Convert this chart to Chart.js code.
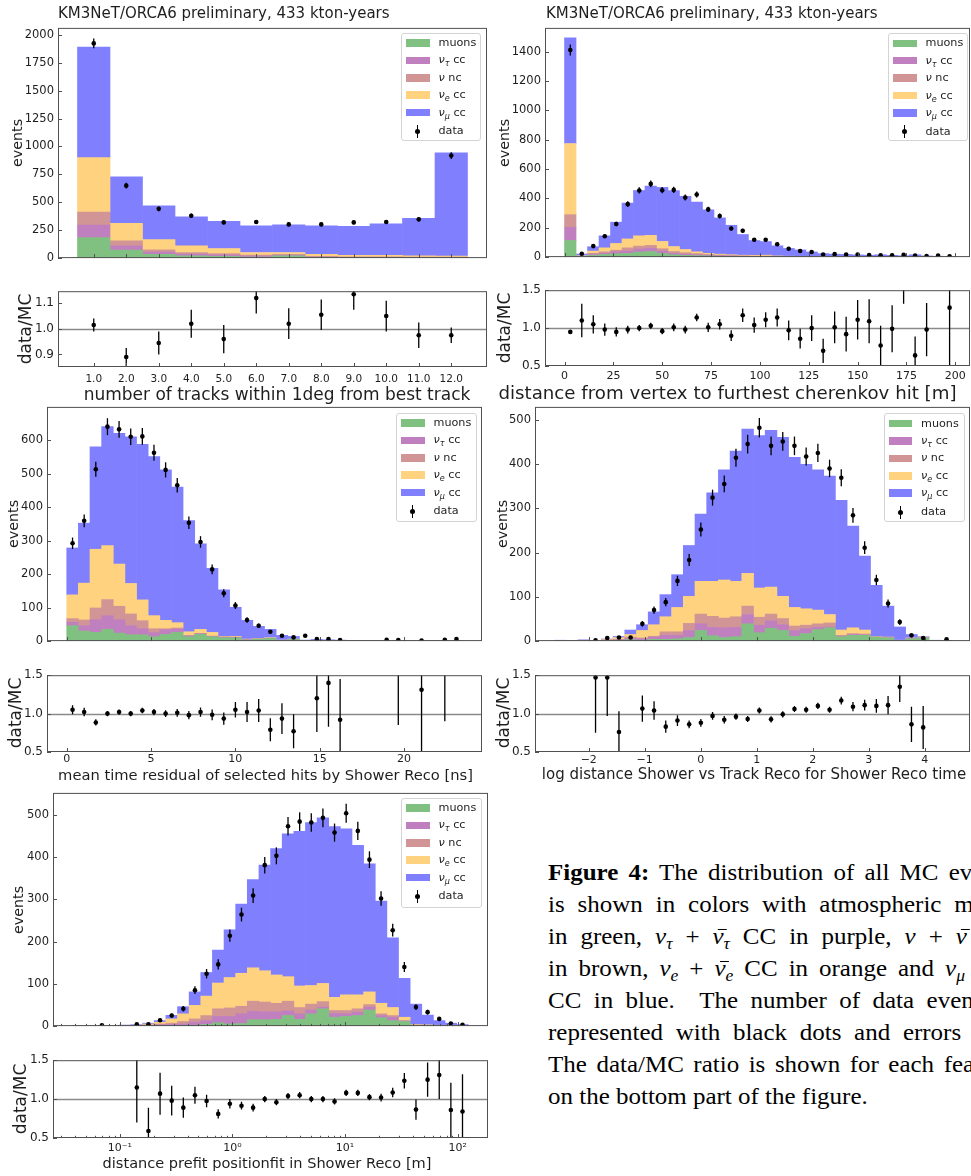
<!DOCTYPE html>
<html><head><meta charset="utf-8">
<script src="https://cdn.jsdelivr.net/npm/chart.js"></script>
<style>
html,body{margin:0;padding:0;background:#fff;width:971px;height:1176px;overflow:hidden;position:relative;font-family:'DejaVu Sans',sans-serif;}
canvas{position:absolute;}
.t{position:absolute;white-space:nowrap;color:#1e1e1e;font-family:'DejaVu Sans',sans-serif;line-height:1.2;}
.c{transform:translate(-50%,-50%);}
.r{transform:translate(-50%,-50%) rotate(-90deg);}
.lv{transform:translate(0,-50%);}
.leg{position:absolute;background:rgba(255,255,255,0.85);border:1px solid #d4d4d4;border-radius:3px;box-sizing:border-box;z-index:5;}
.leg .p{position:absolute;left:4px;width:23.5px;height:7.5px;}
.leg .lt{position:absolute;left:36.5px;font-size:11.2px;color:#1e1e1e;white-space:nowrap;transform:translate(0,-50%);line-height:1.2;}
.leg sub{font-size:72%;vertical-align:-0.28em;line-height:0;}
.cl{position:absolute;left:548px;white-space:nowrap;font-family:'Liberation Serif','Times New Roman',serif;font-size:22.5px;line-height:1;color:#000;transform-origin:0 0;transform:scaleX(1.11);}
.cl sub{font-size:70%;vertical-align:-0.3em;line-height:0;}
.nb{position:relative;display:inline-block;font-style:italic;}
.nb .bar{position:absolute;left:5px;width:8px;top:3px;height:1.3px;background:#000;}
</style></head><body>
<script>
// ================= DATA =================
// Panel A: number of tracks within 1deg from best track (12 bins)
const aCenters = [1, 2, 3, 4, 5, 6, 7, 8, 9, 10, 11, 12];
const aMuons = [184, 71, 33, 21, 15, 9, 20, 6, 5, 5, 4, 4];
const aTau   = [112, 39, 20, 15, 12, 9, 5, 4, 3, 3, 3, 2];
const aNc    = [116, 44, 21, 14, 14, 9, 8, 5, 4, 4, 3, 3];
const aNue   = [488, 157, 92, 60, 45, 23, 17, 18, 12, 12, 11, 9];
const aNumu  = [990, 418, 302, 260, 243, 240, 249, 257, 260, 284, 335, 924];
const aData  = [1923, 649, 441, 379, 320, 323, 302, 302, 320, 323, 347, 918];
const aRatio    = [1.015, 0.89, 0.945, 1.02, 0.96, 1.12, 1.02, 1.055, 1.135, 1.05, 0.975, 0.975];
const aRatioErr = [0.025, 0.035, 0.045, 0.055, 0.055, 0.06, 0.06, 0.06, 0.06, 0.06, 0.05, 0.03];
const aXTicks = [1, 2, 3, 4, 5, 6, 7, 8, 9, 10, 11, 12];
const aXLabels = ['1.0','2.0','3.0','4.0','5.0','6.0','7.0','8.0','9.0','10.0','11.0','12.0'];
const aYTicks = [0, 250, 500, 750, 1000, 1250, 1500, 1750, 2000];
const aYLabels = ['0','250','500','750','1000','1250','1500','1750','2000'];
const aRTicks = [0.9, 1.0, 1.1];
const aRLabels = ['0.9','1.0','1.1'];

// Panel B: distance from vertex to furthest cherenkov hit [m] (34 bins, 0..200)
const bBinStart = 0, bBinWidth = 200 / 34;
const bMuons = [113, 2, 12, 18, 23, 25, 35, 38, 25, 16, 12, 10, 8, 6, 5, 4, 3, 3, 2, 1, 1, 1, 1, 0, 0, 0, 0, 0, 0, 0, 0, 0, 0, 0];
const bTau   = [90, 1, 6, 8, 13, 16, 20, 22, 16, 10, 8, 6, 4, 3, 2, 2, 1, 1, 1, 1, 1, 0, 0, 0, 0, 0, 0, 0, 0, 0, 0, 0, 0, 0];
const bNc    = [86, 2, 8, 10, 11, 22, 20, 20, 16, 12, 10, 8, 6, 5, 4, 3, 3, 3, 2, 2, 1, 1, 1, 1, 1, 0, 0, 0, 0, 0, 0, 0, 0, 0];
const bNue   = [485, 4, 15, 27, 46, 61, 70, 68, 50, 34, 22, 12, 7, 6, 5, 4, 5, 6, 3, 2, 2, 1, 1, 1, 1, 1, 1, 1, 1, 0, 1, 0, 0, 0];
const bNumu  = [721, 12, 30, 82, 145, 244, 309, 336, 368, 381, 362, 339, 297, 247, 201, 141, 101, 93, 69, 53, 44, 32, 21, 18, 16, 14, 12, 15, 11, 9, 15, 8, 6, 4];
const bData  = [1411, 23, 75, 142, 226, 361, 454, 499, 456, 458, 406, 427, 325, 280, 195, 180, 118, 118, 88, 57, 42, 35, 17, 20, 17, 17, 14, 12, 12, 15, 10, 8, 10, 5];
const bRatio    = [0.95, 1.10, 1.05, 0.98, 0.95, 0.98, 1.00, 1.03, 0.96, 1.01, 0.98, 1.14, 1.01, 1.05, 0.90, 1.17, 1.04, 1.11, 1.14, 0.97, 0.86, 1.00, 0.70, 1.01, 0.92, 1.11, 1.09, 0.77, 0.99, 1.65, 0.64, 0.98, null, 1.27];
const bRatioErr = [0.02, 0.22, 0.12, 0.08, 0.06, 0.05, 0.04, 0.04, 0.04, 0.05, 0.05, 0.05, 0.06, 0.07, 0.07, 0.09, 0.10, 0.10, 0.12, 0.13, 0.13, 0.17, 0.16, 0.21, 0.23, 0.26, 0.29, 0.26, 0.31, 0.33, 0.25, 0.35, null, 0.80];
const bXTicks = [0, 25, 50, 75, 100, 125, 150, 175, 200];
const bXLabels = ['0','25','50','75','100','125','150','175','200'];
const bYTicks = [0, 200, 400, 600, 800, 1000, 1200, 1400];
const bYLabels = ['0','200','400','600','800','1000','1200','1400'];

// Panel C: mean time residual of selected hits by Shower Reco [ns] (34 bins)
const cBinStart = 0, cBinWidth = 0.69;
const cMuons = [46, 30, 26, 35, 24, 19, 19, 13, 20, 26, 13, 20, 13, 10, 10, 3, 6, 8, 1, 5, 0, 0, 0, 0, 0, 0, 0, 0, 0, 0, 0, 0, 0, 0];
const cTau   = [10, 16, 38, 41, 40, 27, 18, 12, 14, 10, 2, 2, 1, 1, 1, 1, 0, 0, 0, 0, 0, 0, 0, 0, 0, 0, 0, 0, 0, 0, 0, 0, 0, 0];
const cNc    = [11, 17, 35, 48, 40, 35, 24, 12, 3, 3, 2, 1, 1, 2, 1, 1, 1, 0, 1, 0, 0, 0, 0, 0, 0, 0, 0, 0, 0, 0, 0, 0, 0, 0];
const cNue   = [71, 110, 175, 161, 126, 91, 62, 39, 25, 16, 11, 12, 11, 1, 2, 1, 1, 2, 1, 1, 1, 1, 1, 0, 1, 1, 1, 0, 1, 0, 0.5, 0, 1, 0];
const cNumu  = [140, 179, 306, 355, 390, 438, 464, 475, 449, 405, 332, 255, 191, 139, 87, 56, 36, 25, 14, 8, 2, 4, 3, 3, 1, 1, 1, 1, 1, 1, 1, 1, 1, 1];
const cData  = [292, 359, 513, 640, 632, 610, 611, 562, 511, 465, 353, 296, 214, 143, 106, 63, 46, 28, 16, 11, 16, 6, 6, 3, null, null, null, 4, 3, null, 2, null, 4, 6];
const cRatio    = [1.05, 1.02, 0.885, 1.00, 1.02, 1.00, 1.04, 1.02, 1.00, 1.01, 0.98, 1.02, 0.985, 0.935, 1.05, 1.02, 1.04, 0.79, 0.935, 0.77, null, 1.20, 1.40, 0.92, null, null, null, null, 1.65, null, 1.31, null, 1.85, null];
const cRatioErr = [0.06, 0.055, 0.04, 0.035, 0.035, 0.035, 0.035, 0.04, 0.045, 0.05, 0.055, 0.06, 0.07, 0.08, 0.10, 0.13, 0.15, 0.15, 0.20, 0.22, null, 0.44, 0.57, 0.53, null, null, null, null, 0.80, null, 0.90, null, 0.95, null];
const cXTicks = [0, 5, 10, 15, 20];
const cXLabels = ['0','5','10','15','20'];
const cYTicks = [0, 100, 200, 300, 400, 500, 600];
const cYLabels = ['0','100','200','300','400','500','600'];

// Panel D: log distance Shower vs Track Reco for Shower Reco time (34 bins)
const dBinStart = -2.61, dBinWidth = 0.209;
const dMuons = [0, 0, 0, 0, 1, 2, 3, 2, 4, 4, 5, 8, 24, 12, 8, 10, 39, 19, 29, 24, 11, 17, 26, 30, 10, 13, 13, 9, 7, 1, 5, 7, 0, 0];
const dTau   = [0, 0, 0, 0, 1, 1, 3, 3, 5, 9, 8, 16, 15, 19, 22, 21, 21, 17, 17, 13, 13, 11, 5, 2, 1, 2, 1, 0, 0, 0, 0, 0, 0, 0];
const dNc    = [0, 0, 1, 0.5, 1, 1, 3, 2, 2, 8, 8, 16, 22, 25, 22, 24, 19, 18, 15, 14, 10, 8, 8, 9, 2, 2, 2, 0, 1, 0, 1, 1, 0, 0];
const dNue   = [1, 1, 1, 0.5, 1, 4, 6, 17, 26, 34, 55, 61, 74, 79, 86, 80, 74, 66, 61, 50, 42, 37, 31, 19, 12, 13, 9, 1, 1, 1, 1, 1, 1, 0];
const dNumu  = [1, 0.5, 1, 0.4, 0.8, 2.5, 10, 13, 29, 50, 74, 115, 152, 200, 249, 294, 326, 344, 354, 359, 339, 326, 317, 313, 293, 230, 167, 116, 70, 30, 8, 1, 1, 1.5];
const dData  = [null, null, null, 2, 7, 8, 8, 39, 70, 88, 136, 183, 252, 324, 355, 414, 445, 482, 441, 451, 441, 417, 425, 390, 369, 284, 211, 138, 85, 43, 13, 7, null, 4];
const dRatio    = [null, null, null, 1.47, 1.47, 0.76, null, 1.065, 1.04, 0.83, 0.91, 0.86, 0.88, 0.97, 0.92, 0.96, 0.93, 1.04, 0.925, 0.99, 1.06, 1.05, 1.10, 1.05, 1.17, 1.09, 1.11, 1.10, 1.11, 1.35, 0.86, 0.82, null, null];
const dRatioErr = [null, null, null, 0.72, 0.50, 0.27, null, 0.17, 0.12, 0.08, 0.07, 0.05, 0.05, 0.05, 0.05, 0.04, 0.04, 0.04, 0.04, 0.04, 0.04, 0.04, 0.04, 0.04, 0.05, 0.06, 0.07, 0.09, 0.12, 0.20, 0.23, 0.28, null, null];
const dXTicks = [-2, -1, 0, 1, 2, 3, 4];
const dXLabels = ['\u22122','\u22121','0','1','2','3','4'];
const dYTicks = [0, 100, 200, 300, 400, 500];
const dYLabels = ['0','100','200','300','400','500'];

// Panel E: distance prefit positionfit in Shower Reco [m] (34 log bins)
const eLogStart = -1.417, eLogWidth = 0.1033;
const eMuons = [0, 0, 0, 0, 0, 0, 0, 1, 1, 1, 2, 4, 8, 5, 6, 15, 15, 16, 25, 16, 29, 41, 21, 23, 25, 38, 20, 13, 11, 2, 1, 1, 0, 0];
const eTau   = [0, 0, 0, 0, 0, 0, 1, 2, 3, 4, 7, 9, 15, 18, 23, 20, 19, 18, 11, 13, 9, 4, 9, 6, 8, 7, 5, 8, 1, 0, 0, 0, 0, 0];
const eNc    = [1, 1, 0, 1, 1, 1, 2, 2, 3, 6, 8, 12, 18, 20, 18, 24, 23, 20, 23, 15, 14, 13, 7, 8, 8, 6, 4, 4, 1, 1, 1, 0, 0, 0];
const eNue   = [0, 0, 0, 0.5, 1, 1, 2, 4, 10, 18, 32, 46, 61, 72, 78, 79, 74, 67, 58, 51, 44, 43, 31, 37, 33, 30, 25, 19, 8, 1, 1, 1, 1, 0.6];
const eNumu  = [0, 0, 0, 0, 0.5, 1.5, 2, 4, 8.5, 17, 32, 56, 78, 113, 164, 209, 250, 299, 338, 366, 386, 392, 404, 393, 354, 303, 242, 165, 92, 48, 23, 11, 6, 3];
const eData  = [null, null, 2, null, null, 4, 4, 14, 25, 41, 85, 124, 146, 214, 264, 309, 381, 403, 473, 484, 482, 493, 458, 504, 462, 394, 302, 227, 140, 45, 33, 17, 6, 3];
const eRatio    = [null, null, null, null, null, 1.15, 0.59, 1.07, 0.98, 0.89, 1.05, 0.975, 0.81, 0.94, 0.915, 0.89, 1.00, 0.96, 1.04, 1.05, 1.00, 1.00, 0.97, 1.08, 1.08, 1.025, 1.02, 1.085, 1.235, 0.865, 1.25, 1.31, 0.86, 0.84];
const eRatioErr = [null, null, null, null, null, 0.45, 0.30, 0.27, 0.19, 0.13, 0.11, 0.08, 0.06, 0.06, 0.05, 0.05, 0.04, 0.04, 0.04, 0.04, 0.04, 0.04, 0.04, 0.04, 0.04, 0.04, 0.05, 0.06, 0.10, 0.13, 0.22, 0.31, 0.35, 0.48];
const eXTicks = [0.1, 1, 10, 100];
const eXLabels = ['10\u207B\u00B9','10\u2070','10\u00B9','10\u00B2'];
const eYTicks = [0, 100, 200, 300, 400, 500];
const eYLabels = ['0','100','200','300','400','500'];

const rTicks = [0.5, 1.0, 1.5];
const rLabels = ['0.5','1.0','1.5'];

const compLabels = ['muons', '\u03BD\u03C4 cc', '\u03BD nc', '\u03BDe cc', '\u03BD\u03BC cc'];
// ================= STYLE / LAYOUT =================
const compColors = ['#80c080', '#c080c0', '#d29595', '#ffd280', '#8080ff'];
const frameColor = '#505050';

const decor = {
  id: 'decor',
  beforeDatasetsDraw(chart, args, o) {
    if (o.refLine == null) return;
    const {ctx, chartArea: a, scales: {y}} = chart;
    const py = Math.round(y.getPixelForValue(o.refLine)) + 0.5;
    ctx.save(); ctx.strokeStyle = '#8a8a8a'; ctx.lineWidth = 1.3;
    ctx.beginPath(); ctx.moveTo(a.left, py); ctx.lineTo(a.right, py); ctx.stroke(); ctx.restore();
  },
  afterDatasetsDraw(chart, args, o) {
    const {ctx, chartArea: a, scales: {x, y}} = chart;
    ctx.save();
    ctx.beginPath(); ctx.rect(a.left, a.top, a.right - a.left, a.bottom - a.top); ctx.clip();
    ctx.strokeStyle = '#000'; ctx.lineWidth = 1.3;
    chart.data.datasets.forEach(ds => {
      if (!ds.errors) return;
      ds.data.forEach((p, j) => {
        const e = ds.errors[j];
        if (p.y == null || e == null) return;
        const px = x.getPixelForValue(p.x);
        ctx.beginPath();
        ctx.moveTo(px, y.getPixelForValue(p.y - e));
        ctx.lineTo(px, y.getPixelForValue(p.y + e));
        ctx.stroke();
      });
    });
    ctx.restore();
    ctx.save(); ctx.strokeStyle = frameColor; ctx.lineWidth = 1;
    const seg = (x1, y1, x2, y2) => { ctx.beginPath(); ctx.moveTo(x1, y1); ctx.lineTo(x2, y2); ctx.stroke(); };
    (o.xTicks || []).forEach(v => { const px = Math.round(x.getPixelForValue(v)) + 0.5; seg(px, a.bottom, px, a.bottom - 4); });
    (o.xMinor || []).forEach(v => { const px = Math.round(x.getPixelForValue(v)) + 0.5; seg(px, a.bottom, px, a.bottom - 2.2); });
    (o.yTicks || []).forEach(v => { const py = Math.round(y.getPixelForValue(v)) + 0.5; seg(a.left, py, a.left + 4, py); });
    ctx.strokeRect(a.left + 0.5, a.top + 0.5, a.right - a.left - 1, a.bottom - a.top - 1);
    ctx.restore();
  }
};

function addCanvas(frame, yW, pT, pR, xH) {
  const [L, T, R, B] = frame;
  const c = document.createElement('canvas');
  const W = R - L + yW + pR, H = B - T + pT + xH;
  c.width = W; c.height = H;
  c.style.left = (L - yW) + 'px'; c.style.top = (T - pT) + 'px';
  c.style.width = W + 'px'; c.style.height = H + 'px';
  document.body.appendChild(c);
  return c;
}

function makeChart(p) {
  const yW = 44, pT = 10, pR = 4;
  const canvas = addCanvas(p.frame, yW, pT, pR, p.xH);
  return new Chart(canvas, {
    type: p.ratio ? 'scatter' : 'bar',
    data: {datasets: p.datasets},
    options: {
      responsive: false, maintainAspectRatio: false, animation: false, events: [],
      layout: {padding: {left: 0, top: pT, right: pR, bottom: 0}},
      plugins: {legend: {display: false}, tooltip: {enabled: false},
        decor: {xTicks: p.xTicks, xMinor: p.xMinor, yTicks: p.yTicks, refLine: p.ratio ? 1.0 : null}},
      scales: {
        x: {type: p.xType || 'linear', min: p.xRange[0], max: p.xRange[1], bounds: 'data',
          stacked: !p.ratio, offset: false,
          grid: {display: false, drawTicks: false}, border: {display: false},
          afterBuildTicks: s => { s.ticks = p.xTicks.map(v => ({value: v})); },
          afterFit: s => { s.height = p.xH; },
          ticks: {display: !!p.ratio, autoSkip: false, maxRotation: 0, minRotation: 0,
            padding: p.xPad || 3, color: '#1e1e1e',
            font: {family: 'DejaVu Sans', size: p.xFont || 11},
            callback: (v, i) => p.xLabels[i]}},
        y: {type: 'linear', min: p.yRange[0], max: p.yRange[1], bounds: 'data', stacked: !p.ratio,
          grid: {display: false, drawTicks: false}, border: {display: false},
          afterBuildTicks: s => { s.ticks = p.yTicks.map(v => ({value: v})); },
          afterFit: s => { s.width = yW; },
          ticks: {padding: 4, color: '#1e1e1e', font: {family: 'DejaVu Sans', size: p.ratio ? 12 : 11.5},
            callback: (v, i) => p.yLabels[i]}}
      }
    },
    plugins: [decor]
  });
}

function histSets(centers, comps, data) {
  const sets = comps.map((vals, i) => ({
    type: 'bar', label: compLabels[i], stack: 'mc', order: 1,
    data: centers.map((c, k) => ({x: c, y: vals[k]})),
    backgroundColor: compColors[i], borderWidth: 0, barPercentage: 1, categoryPercentage: 1
  }));
  sets.push({
    type: 'line', label: 'data', stack: 'data', order: 0, showLine: false,
    data: centers.map((c, k) => ({x: c, y: data[k]})),
    errors: data.map(v => v == null ? null : Math.sqrt(v)),   // Poisson errors of the counts
    pointRadius: 2.3, pointBackgroundColor: '#000', pointBorderColor: '#000', pointBorderWidth: 0
  });
  return sets;
}
function ratioSets(centers, ratio, err) {
  return [{
    type: 'scatter', label: 'data/MC', showLine: false,
    data: centers.map((c, k) => ({x: c, y: ratio[k]})), errors: err,
    pointRadius: 2.3, pointBackgroundColor: '#000', pointBorderColor: '#000', pointBorderWidth: 0
  }];
}

const bCenters = bNumu.map((_, k) => bBinStart + (k + 0.5) * bBinWidth);
const cCenters = cNumu.map((_, k) => cBinStart + (k + 0.5) * cBinWidth);
const dCenters = dNumu.map((_, k) => dBinStart + (k + 0.5) * dBinWidth);
const eCenters = eNumu.map((_, k) => Math.pow(10, eLogStart + (k + 0.5) * eLogWidth));
const eRange = [Math.pow(10, -1.593), Math.pow(10, 2.27)];
const eMinor = [];
for (let d = -2; d <= 2; d++) for (let m = 2; m <= 9; m++) {
  const v = m * Math.pow(10, d);
  if (v > eRange[0] && v < eRange[1]) eMinor.push(v);
}

// Panel A
makeChart({frame: [58, 27, 487, 259], xH: 10, xRange: [-0.1, 13.1], yRange: [0, 2062],
  xTicks: aXTicks, xLabels: aXLabels, yTicks: aYTicks, yLabels: aYLabels,
  datasets: histSets(aCenters, [aMuons, aTau, aNc, aNue, aNumu], aData)});
makeChart({frame: [58, 290, 487, 367], xH: 26, ratio: true, xRange: [-0.1, 13.1], yRange: [0.851, 1.147],
  xTicks: aXTicks, xLabels: aXLabels, xPad: 6, xFont: 10.5, yTicks: aRTicks, yLabels: aRLabels,
  datasets: ratioSets(aCenters, aRatio, aRatioErr)});
// Panel B
makeChart({frame: [545, 27, 970, 258], xH: 10, xRange: [-10, 207.5], yRange: [0, 1562],
  xTicks: bXTicks, xLabels: bXLabels, yTicks: bYTicks, yLabels: bYLabels,
  datasets: histSets(bCenters, [bMuons, bTau, bNc, bNue, bNumu], bData)});
makeChart({frame: [545, 289, 970, 366], xH: 26, ratio: true, xRange: [-10, 207.5], yRange: [0.5, 1.5],
  xTicks: bXTicks, xLabels: bXLabels, xPad: 3.4, yTicks: rTicks, yLabels: rLabels,
  datasets: ratioSets(bCenters, bRatio, bRatioErr)});
// Panel C
makeChart({frame: [47, 406, 482, 642], xH: 10, xRange: [-1.17, 24.63], yRange: [0, 699],
  xTicks: cXTicks, xLabels: cXLabels, yTicks: cYTicks, yLabels: cYLabels,
  datasets: histSets(cCenters, [cMuons, cTau, cNc, cNue, cNumu], cData)});
makeChart({frame: [47, 674, 482, 752], xH: 26, ratio: true, xRange: [-1.17, 24.63], yRange: [0.5, 1.5],
  xTicks: cXTicks, xLabels: cXLabels, xPad: 1, yTicks: rTicks, yLabels: rLabels,
  datasets: ratioSets(cCenters, cRatio, cRatioErr)});
// Panel D
makeChart({frame: [535, 406, 970, 642], xH: 10, xRange: [-2.96, 4.81], yRange: [0, 529],
  xTicks: dXTicks, xLabels: dXLabels, yTicks: dYTicks, yLabels: dYLabels,
  datasets: histSets(dCenters, [dMuons, dTau, dNc, dNue, dNumu], dData)});
makeChart({frame: [535, 674, 970, 752], xH: 26, ratio: true, xRange: [-2.96, 4.81], yRange: [0.5, 1.5],
  xTicks: dXTicks, xLabels: dXLabels, xPad: 1.5, yTicks: rTicks, yLabels: rLabels,
  datasets: ratioSets(dCenters, dRatio, dRatioErr)});
// Panel E
makeChart({frame: [53, 792, 488, 1027], xH: 10, xType: 'logarithmic', xRange: eRange, yRange: [0, 552],
  xTicks: eXTicks, xMinor: eMinor, xLabels: eXLabels, yTicks: eYTicks, yLabels: eYLabels,
  datasets: histSets(eCenters, [eMuons, eTau, eNc, eNue, eNumu], eData)});
makeChart({frame: [53, 1059, 488, 1138], xH: 28, ratio: true, xType: 'logarithmic', xRange: eRange, yRange: [0.5, 1.5],
  xTicks: eXTicks, xMinor: eMinor, xLabels: eXLabels, xPad: 3.5, yTicks: rTicks, yLabels: rLabels,
  datasets: ratioSets(eCenters, eRatio, eRatioErr)});

// ================= TEXT =================
function txt(html, x, y, size, cls) {
  const d = document.createElement('div');
  d.className = 't ' + cls;
  d.style.left = x + 'px'; d.style.top = y + 'px'; d.style.fontSize = size + 'px';
  d.innerHTML = html;
  document.body.appendChild(d);
  return d;
}
const title = 'KM3NeT/ORCA6 preliminary, 433 kton-years';
txt(title, 58, 12.5, 15, 'lv');
txt(title, 546, 12.5, 15, 'lv');
[[17.5, 143], [504.5, 142.5], [14, 524], [502.5, 524], [19, 910]].forEach(([x, y]) => txt('events', x, y, 14.3, 'r'));
[[25, 328.5], [504, 327.5], [15, 713], [503, 713], [20, 1099]].forEach(([x, y]) => txt('data/MC', x, y, 17, 'r'));
txt('number of tracks within 1deg from best track', 277, 394, 17, 'c');
txt('distance from vertex to furthest cherenkov hit [m]', 727.5, 393.3, 18.2, 'c');
txt('mean time residual of selected hits by Shower Reco [ns]', 265.5, 775, 14.7, 'c');
txt('log distance Shower vs Track Reco for Shower Reco time', 754, 773.5, 15, 'c');
txt('distance prefit positionfit in Shower Reco [m]', 267, 1163.3, 14.55, 'c');

// legends
const legendHtml = ['muons', '<i>\u03BD</i><sub><i>\u03C4</i></sub> cc', '<i>\u03BD</i> nc',
  '<i>\u03BD</i><sub><i>e</i></sub> cc', '<i>\u03BD</i><sub><i>\u03BC</i></sub> cc', 'data'];
const rowY = [9.3, 26.6, 44.2, 61.5, 78.9, 97.8];
[[401, 32.7, 80, 108.5], [888, 33, 80, 107.5], [396, 412.7, 81, 109], [883.5, 413.3, 81.5, 108.5], [401, 797.7, 81.3, 110]]
.forEach(([l, t, w, h]) => {
  const box = document.createElement('div');
  box.className = 'leg';
  box.style.left = l + 'px'; box.style.top = t + 'px'; box.style.width = w + 'px'; box.style.height = h + 'px';
  let s = '';
  for (let i = 0; i < 5; i++) {
    s += `<div class="p" style="top:${rowY[i] - 3.75}px;background:${compColors[i]}"></div>`;
  }
  s += `<div style="position:absolute;left:15.1px;top:${rowY[5] - 6.5}px;width:1.3px;height:13px;background:#000"></div>`;
  s += `<div style="position:absolute;left:13.25px;top:${rowY[5] - 2.5}px;width:5px;height:5px;border-radius:50%;background:#000"></div>`;
  legendHtml.forEach((lab, i) => { s += `<div class="lt" style="top:${rowY[i]}px">${lab}</div>`; });
  box.innerHTML = s;
  document.body.appendChild(box);
});

// caption
const nubar = '<span class="nb">\u03BD<span class="bar"></span></span>';
const capLines = [
  '<b>Figure 4:</b> The distribution of all MC events',
  'is shown in colors with atmospheric muons',
  `in green, <i>\u03BD</i><sub><i>\u03C4</i></sub> + ${nubar}<sub><i>\u03C4</i></sub> CC in purple, <i>\u03BD</i> + ${nubar} NC`,
  `in brown, <i>\u03BD</i><sub><i>e</i></sub> + ${nubar}<sub><i>e</i></sub> CC in orange and <i>\u03BD</i><sub><i>\u03BC</i></sub> + ${nubar}<sub><i>\u03BC</i></sub>`,
  'CC in blue.\u00A0 The number of data events is',
  'represented with black dots and errors bars.',
  'The data/MC ratio is shown for each feature',
  'on the bottom part of the figure.'
];
const SX = 1.11;
const capTargets = [465, 473, 467, 473, 472, 474, 465];
capLines.forEach((h, i) => {
  const d = document.createElement('div');
  d.className = 'cl';
  d.innerHTML = h;
  document.body.appendChild(d);
  const base = 882.3 + i * 31.9;
  d.style.top = (base - 22.5 * 0.891) + 'px';
  if (i < capLines.length - 1) {
    const colW = capTargets[i] / SX;
    const w = d.offsetWidth;
    const n = (d.textContent.match(/[ \u00A0]/g) || []).length;
    if (n > 0 && w < colW) d.style.wordSpacing = ((colW - w) / n) + 'px';
  }
});
</script>
</body></html>
